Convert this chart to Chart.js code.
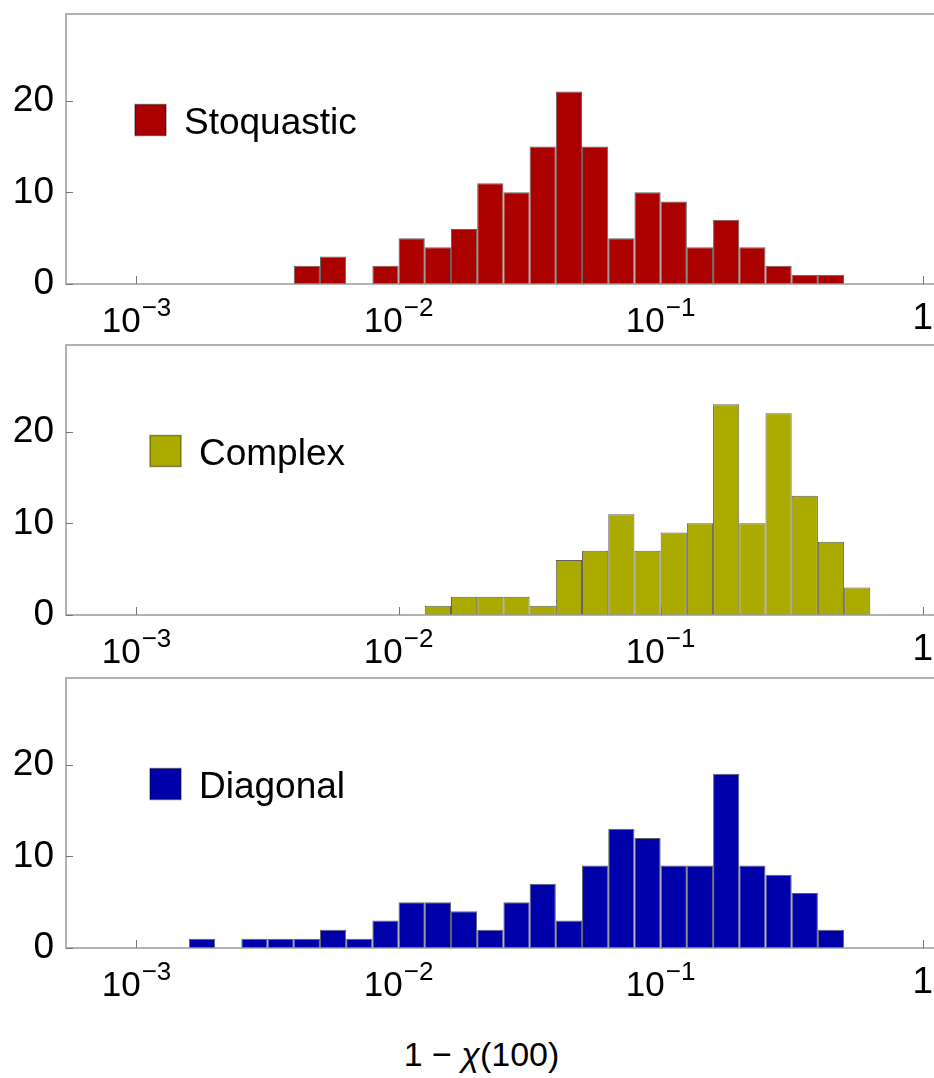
<!DOCTYPE html>
<html>
<head>
<meta charset="utf-8">
<script src="https://cdn.jsdelivr.net/npm/chart.js@4.4.0/dist/chart.umd.min.js"></script>
<style>
  html, body { margin: 0; padding: 0; background: #fff; overflow: hidden; }
  #wrap { position: relative; width: 934px; height: 1078px; overflow: hidden; }
  .panel { position: absolute; left: 0; width: 960px; height: 340px; }
  #xtitle {
    position: absolute; left: 0; width: 963px; top: 1037px;
    text-align: center; font: 34px 'Liberation Sans', Arial, sans-serif; line-height: 34px;
  }
</style>
</head>
<body>
<div id="wrap">
  <div class="panel" style="top:0"><canvas id="c0" width="960" height="340"></canvas></div>
  <div class="panel" style="top:331px"><canvas id="c1" width="960" height="340"></canvas></div>
  <div class="panel" style="top:664px"><canvas id="c2" width="960" height="340"></canvas></div>
  <div id="xtitle">1 − <i>χ</i>(100)</div>
</div>
<script>
// lower edge of each bin, in log10(1 - chi)
const binLow = [-2.8, -2.7, -2.6, -2.5, -2.4, -2.3, -2.2, -2.1, -2.0, -1.9, -1.8, -1.7, -1.6,
                -1.5, -1.4, -1.3, -1.2, -1.1, -1.0, -0.9, -0.8, -0.7, -0.6, -0.5, -0.4, -0.3];
const binWidth = 0.1;

const stoquastic = [0, 0, 0, 0, 2, 3, 0, 2, 5, 4, 6, 11, 10, 15, 21, 15, 5, 10, 9, 4, 7, 4, 2, 1, 1, 0];
const complex    = [0, 0, 0, 0, 0, 0, 0, 0, 0, 1, 2, 2, 2, 1, 6, 7, 11, 7, 9, 10, 23, 10, 22, 13, 8, 3];
const diagonal   = [1, 0, 1, 1, 1, 2, 1, 3, 5, 5, 4, 2, 5, 7, 3, 9, 13, 12, 9, 9, 19, 9, 8, 6, 2, 0];

const seriesNames  = ['Stoquastic', 'Complex', 'Diagonal'];
const seriesColors = ['#aa0000', '#aaaa00', '#0000aa'];

const yTicks    = [0, 10, 20];
const xTickExp  = [-3, -2, -1, 0];
const xTickBase = ['10', '10', '10', '1'];
const xTickSup  = ['−3', '−2', '−1', ''];

const FONT = "'Liberation Sans', Arial, sans-serif";

const panelDecor = {
  id: 'panelDecor',
  afterDraw(chart, args, opts) {
    const ctx = chart.ctx;
    const a = chart.chartArea;
    const xs = chart.scales.x, ys = chart.scales.y;
    ctx.save();
    // frame
    ctx.strokeStyle = '#999';
    ctx.lineWidth = 1.5;
    ctx.strokeRect(a.left, a.top, a.right - a.left, a.bottom - a.top);
    // inward ticks
    ctx.lineWidth = 1;
    ctx.strokeStyle = '#777';
    ctx.beginPath();
    xTickExp.forEach(e => {
      const px = Math.round(xs.getPixelForValue(Math.pow(10, e))) + 0.5;
      ctx.moveTo(px, a.bottom);
      ctx.lineTo(px, a.bottom - 8);
    });
    yTicks.forEach(v => {
      const py = Math.round(ys.getPixelForValue(v)) + 0.5;
      ctx.moveTo(a.left, py);
      ctx.lineTo(a.left + 7, py);
    });
    ctx.stroke();
    // x tick labels with superscripts
    ctx.fillStyle = '#000';
    ctx.textBaseline = 'alphabetic';
    ctx.textAlign = 'left';
    xTickExp.forEach((e, i) => {
      const px = xs.getPixelForValue(Math.pow(10, e));
      if (xTickSup[i]) {
        ctx.font = '35px ' + FONT;
        const wb = ctx.measureText(xTickBase[i]).width;
        ctx.font = '26px ' + FONT;
        const wsup = ctx.measureText(xTickSup[i]).width;
        const x0 = px - (wb + wsup + 1) / 2;
        ctx.font = '35px ' + FONT;
        ctx.fillText(xTickBase[i], x0, a.bottom + 48);
        ctx.font = '26px ' + FONT;
        ctx.fillText(xTickSup[i], x0 + wb + 1, a.bottom + 31.5);
      } else {
        ctx.font = '37px ' + FONT;
        const wb = ctx.measureText(xTickBase[i]).width;
        ctx.fillText(xTickBase[i], px - wb / 2, a.bottom + 44.5);
      }
    });
    // legend
    const ds = chart.data.datasets[0];
    const lx = a.left + opts.offsetX, ly = a.top + 90.5;
    ctx.fillStyle = ds.backgroundColor;
    ctx.fillRect(lx, ly, 31, 31);
    ctx.strokeStyle = 'rgba(0,0,0,0.4)';
    ctx.lineWidth = 1.5;
    ctx.strokeRect(lx, ly, 31, 31);
    ctx.fillStyle = '#000';
    ctx.font = '37px ' + FONT;
    ctx.fillText(ds.label, lx + 49, ly + 29);
    ctx.restore();
  }
};

function makePanel(id, name, color, counts, legendX) {
  new Chart(document.getElementById(id), {
    type: 'bar',
    data: {
      datasets: [{
        label: name,
        data: binLow.map((b, i) => ({ x: Math.pow(10, b + binWidth / 2), y: counts[i] })),
        backgroundColor: color,
        borderColor: 'rgba(0,0,0,0.62)',
        borderWidth: 1,
        inflateAmount: 0,
        barPercentage: 1,
        categoryPercentage: 1
      }]
    },
    options: {
      responsive: false,
      animation: false,
      events: [],
      layout: { padding: { top: 14, right: 15, left: 0, bottom: 0 } },
      plugins: {
        legend: { display: false },
        tooltip: { enabled: false },
        panelDecor: { offsetX: legendX }
      },
      scales: {
        x: {
          type: 'logarithmic',
          min: Math.pow(10, -3.269),
          max: Math.pow(10, 0.085),
          afterBuildTicks: s => { s.ticks = xTickExp.map(e => ({ value: Math.pow(10, e) })); },
          ticks: { display: false },
          grid: { display: false },
          border: { display: false },
          afterFit: s => { s.height = 56; s.paddingLeft = 0; s.paddingRight = 0; }
        },
        y: {
          min: 0,
          max: 29.45,
          afterBuildTicks: s => { s.ticks = yTicks.map(v => ({ value: v })); },
          ticks: { font: { family: FONT, size: 37 }, color: '#000', padding: 12 },
          grid: { display: false, drawTicks: false },
          border: { display: false },
          afterFit: s => { s.width = 66; s.paddingTop = 0; s.paddingBottom = 0; }
        }
      }
    },
    plugins: [panelDecor]
  });
}

makePanel('c0', seriesNames[0], seriesColors[0], stoquastic, 69);
makePanel('c1', seriesNames[1], seriesColors[1], complex, 84);
makePanel('c2', seriesNames[2], seriesColors[2], diagonal, 84);
</script>
</body>
</html>
